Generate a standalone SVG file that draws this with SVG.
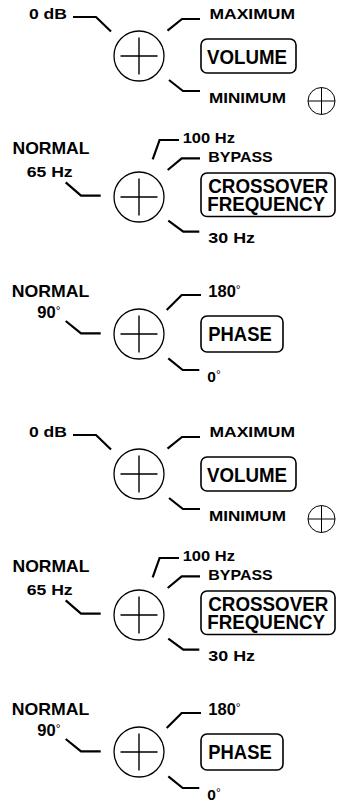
<svg xmlns="http://www.w3.org/2000/svg" width="340" height="801" viewBox="0 0 340 801">
<style>
.t{font-family:"Liberation Sans",Arial,Helvetica,sans-serif;font-weight:bold;fill:#000}
.s{font-size:15.5px}
.n{font-size:16.5px}
.b{font-size:20px}
.deg{font-weight:normal;font-size:12px}
.knob{fill:#fff;stroke:#000;stroke-width:1.3}
.cross{stroke:#000;stroke-width:1.4;fill:none}
.lead{fill:none;stroke:#000;stroke-width:2.2;stroke-linejoin:miter}
.box{fill:#fff;stroke:#000;stroke-width:1.6}
.mini{fill:#fff;stroke:#000;stroke-width:1}
</style>
<rect width="340" height="801" fill="#fff"/>

<g id="set1">
  <g id="connectors">
    <path class="lead" d="M73,17 H96 L111,31.5"/>
    <path class="lead" d="M167.5,30.7 L182,19 H200"/>
    <path class="lead" d="M169,80 L183,91 H200"/>
    <path class="lead" d="M65.7,182.3 L81,195.7 H100.7"/>
    <path class="lead" d="M152.7,159.3 L159.6,140 H179"/>
    <path class="lead" d="M167.7,170 L181.7,158.3 H200"/>
    <path class="lead" d="M168.3,220.7 L183.3,231.7 H199.3"/>
    <path class="lead" d="M65.7,321 L81,333.3 H100.7"/>
    <path class="lead" d="M166.7,310 L181.7,295 H201"/>
    <path class="lead" d="M168.3,358.3 L182.7,370 H199.3"/>
  </g>

  <g id="volume-knob">
    <circle class="knob" cx="139" cy="56" r="25"/>
    <path class="cross" d="M120.5,56 H157.5 M139,37.5 V74.5"/>
  </g>
  <g id="volume-labels">
    <text class="t s" x="29" y="19.3" textLength="38" lengthAdjust="spacingAndGlyphs">0 dB</text>
    <text class="t s" x="209.5" y="19" textLength="85.5" lengthAdjust="spacingAndGlyphs">MAXIMUM</text>
    <text class="t s" x="209" y="102.7" textLength="77" lengthAdjust="spacingAndGlyphs">MINIMUM</text>
  </g>
  <g id="volume-box">
    <rect class="box" x="201" y="39" width="95" height="34" rx="6"/>
    <text class="t b" x="207" y="63.5" textLength="80" lengthAdjust="spacingAndGlyphs">VOLUME</text>
  </g>
  <g id="mini-symbol">
    <circle class="mini" cx="321.5" cy="101" r="13.5"/>
    <path class="cross" style="stroke-width:1" d="M308,101 H335 M321.5,87.5 V114.5"/>
  </g>

  <g id="crossover-knob">
    <circle class="knob" cx="139" cy="197" r="25"/>
    <path class="cross" d="M120.5,197 H157.5 M139,178.5 V215.5"/>
  </g>
  <g id="crossover-labels">
    <text class="t n" x="12.5" y="154.3" textLength="77" lengthAdjust="spacingAndGlyphs">NORMAL</text>
    <text class="t s" x="26.7" y="176.7" textLength="46" lengthAdjust="spacingAndGlyphs">65 Hz</text>
    <text class="t s" x="182.7" y="143.3" textLength="52.3" lengthAdjust="spacingAndGlyphs">100 Hz</text>
    <text class="t s" x="208.3" y="161.7" textLength="64.4" lengthAdjust="spacingAndGlyphs">BYPASS</text>
    <text class="t s" x="208.3" y="243.3" textLength="46.7" lengthAdjust="spacingAndGlyphs">30 Hz</text>
  </g>
  <g id="crossover-box">
    <rect class="box" x="201" y="173" width="134" height="43.5" rx="6"/>
    <text class="t b" x="208.3" y="193.3" textLength="120" lengthAdjust="spacingAndGlyphs">CROSSOVER</text>
    <text class="t b" x="207.3" y="211.3" textLength="117.7" lengthAdjust="spacingAndGlyphs">FREQUENCY</text>
  </g>

  <g id="phase-knob">
    <circle class="knob" cx="139" cy="334" r="25"/>
    <path class="cross" d="M120.5,334 H157.5 M139,315.5 V352.5"/>
  </g>
  <g id="phase-labels">
    <text class="t n" x="11.7" y="296.7" textLength="77.6" lengthAdjust="spacingAndGlyphs">NORMAL</text>
    <text class="t n" x="37.3" y="318.3">90<tspan class="deg" dy="-3">°</tspan></text>
    <text class="t n" x="208.3" y="296.7">180<tspan class="deg" dy="-3">°</tspan></text>
    <text class="t s" x="207.3" y="381.7">0<tspan class="deg" dy="-3">°</tspan></text>
  </g>
  <g id="phase-box">
    <rect class="box" x="201" y="316" width="82" height="36" rx="6"/>
    <text class="t b" x="208.3" y="341" textLength="63.4" lengthAdjust="spacingAndGlyphs">PHASE</text>
  </g>
</g>

<g id="set2" transform="translate(0,418)">
  <g id="connectors-2">
    <path class="lead" d="M73,17 H96 L111,31.5"/>
    <path class="lead" d="M167.5,30.7 L182,19 H200"/>
    <path class="lead" d="M169,80 L183,91 H200"/>
    <path class="lead" d="M65.7,182.3 L81,195.7 H100.7"/>
    <path class="lead" d="M152.7,159.3 L159.6,140 H179"/>
    <path class="lead" d="M167.7,170 L181.7,158.3 H200"/>
    <path class="lead" d="M168.3,220.7 L183.3,231.7 H199.3"/>
    <path class="lead" d="M65.7,321 L81,333.3 H100.7"/>
    <path class="lead" d="M166.7,310 L181.7,295 H201"/>
    <path class="lead" d="M168.3,358.3 L182.7,370 H199.3"/>
  </g>

  <g id="volume-knob-2">
    <circle class="knob" cx="139" cy="56" r="25"/>
    <path class="cross" d="M120.5,56 H157.5 M139,37.5 V74.5"/>
  </g>
  <g id="volume-labels-2">
    <text class="t s" x="29" y="19.3" textLength="38" lengthAdjust="spacingAndGlyphs">0 dB</text>
    <text class="t s" x="209.5" y="19" textLength="85.5" lengthAdjust="spacingAndGlyphs">MAXIMUM</text>
    <text class="t s" x="209" y="102.7" textLength="77" lengthAdjust="spacingAndGlyphs">MINIMUM</text>
  </g>
  <g id="volume-box-2">
    <rect class="box" x="201" y="39" width="95" height="34" rx="6"/>
    <text class="t b" x="207" y="63.5" textLength="80" lengthAdjust="spacingAndGlyphs">VOLUME</text>
  </g>
  <g id="mini-symbol-2">
    <circle class="mini" cx="321.5" cy="101" r="13.5"/>
    <path class="cross" style="stroke-width:1" d="M308,101 H335 M321.5,87.5 V114.5"/>
  </g>

  <g id="crossover-knob-2">
    <circle class="knob" cx="139" cy="197" r="25"/>
    <path class="cross" d="M120.5,197 H157.5 M139,178.5 V215.5"/>
  </g>
  <g id="crossover-labels-2">
    <text class="t n" x="12.5" y="154.3" textLength="77" lengthAdjust="spacingAndGlyphs">NORMAL</text>
    <text class="t s" x="26.7" y="176.7" textLength="46" lengthAdjust="spacingAndGlyphs">65 Hz</text>
    <text class="t s" x="182.7" y="143.3" textLength="52.3" lengthAdjust="spacingAndGlyphs">100 Hz</text>
    <text class="t s" x="208.3" y="161.7" textLength="64.4" lengthAdjust="spacingAndGlyphs">BYPASS</text>
    <text class="t s" x="208.3" y="243.3" textLength="46.7" lengthAdjust="spacingAndGlyphs">30 Hz</text>
  </g>
  <g id="crossover-box-2">
    <rect class="box" x="201" y="173" width="134" height="43.5" rx="6"/>
    <text class="t b" x="208.3" y="193.3" textLength="120" lengthAdjust="spacingAndGlyphs">CROSSOVER</text>
    <text class="t b" x="207.3" y="211.3" textLength="117.7" lengthAdjust="spacingAndGlyphs">FREQUENCY</text>
  </g>

  <g id="phase-knob-2">
    <circle class="knob" cx="139" cy="334" r="25"/>
    <path class="cross" d="M120.5,334 H157.5 M139,315.5 V352.5"/>
  </g>
  <g id="phase-labels-2">
    <text class="t n" x="11.7" y="296.7" textLength="77.6" lengthAdjust="spacingAndGlyphs">NORMAL</text>
    <text class="t n" x="37.3" y="318.3">90<tspan class="deg" dy="-3">°</tspan></text>
    <text class="t n" x="208.3" y="296.7">180<tspan class="deg" dy="-3">°</tspan></text>
    <text class="t s" x="207.3" y="381.7">0<tspan class="deg" dy="-3">°</tspan></text>
  </g>
  <g id="phase-box-2">
    <rect class="box" x="201" y="316" width="82" height="36" rx="6"/>
    <text class="t b" x="208.3" y="341" textLength="63.4" lengthAdjust="spacingAndGlyphs">PHASE</text>
  </g>
</g>
</svg>
